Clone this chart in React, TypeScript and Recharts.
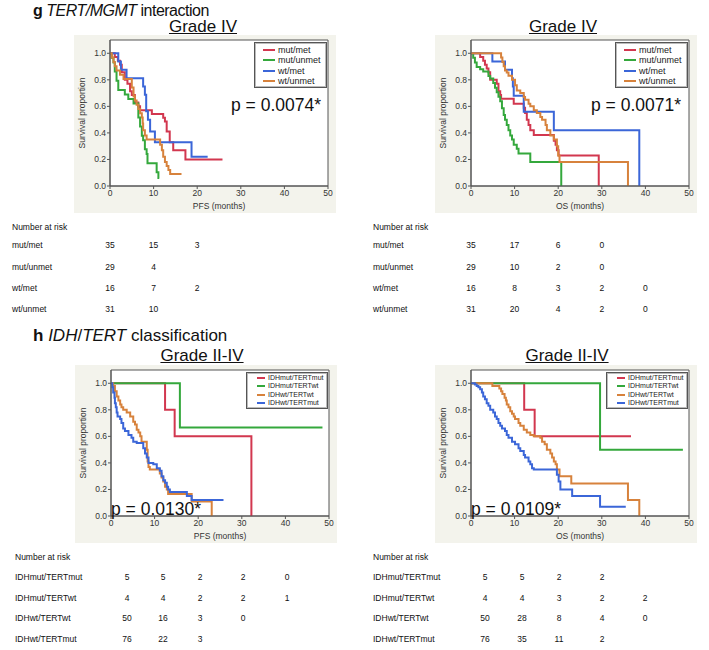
import React from 'react';
import { LineChart, Line, XAxis, YAxis, ReferenceArea, CartesianGrid, Legend } from 'recharts';

type Step = [number, number];

const monthTicks = [0, 10, 20, 30, 40, 50];
const survivalTicks = [0, 0.2, 0.4, 0.6, 0.8, 1.0];

const RED = '#d2374f';
const GREEN = '#34a83c';
const BLUE = '#3b66d8';
const ORANGE = '#d7823c';

const gradeIVGroups = ['mut/met', 'mut/unmet', 'wt/met', 'wt/unmet'];
const gradeIVColors = [RED, GREEN, BLUE, ORANGE];
const idhTertGroups = ['IDHmut/TERTmut', 'IDHmut/TERTwt', 'IDHwt/TERTwt', 'IDHwt/TERTmut'];
const idhTertColors = [RED, GREEN, ORANGE, BLUE];

// ---- g: PFS, Grade IV ----
const pfsG4MutMet: Step[] = [[0,1],[1.1,0.971],[1.8,0.943],[2.3,0.914],[2.7,0.857],[3.4,0.8],[4.0,0.771],[4.6,0.714],[5.0,0.686],[5.7,0.629],[6.5,0.6],[6.9,0.571],[9.6,0.543],[12.2,0.514],[12.6,0.486],[13.0,0.41],[13.7,0.33],[14.5,0.27],[17.3,0.2],[25.8,0.2]];
const pfsG4MutUnmet: Step[] = [[0,1],[0.4,0.966],[0.8,0.931],[1.1,0.862],[1.5,0.793],[1.9,0.724],[3.4,0.69],[4.2,0.655],[5.4,0.621],[6.5,0.517],[6.9,0.448],[7.3,0.379],[7.6,0.345],[8.0,0.276],[8.4,0.241],[8.6,0.172],[10.7,0.103],[11.1,0.06],[11.3,0.06]];
const pfsG4WtMet: Step[] = [[0,1],[1.9,0.9375],[2.5,0.875],[3.8,0.8125],[7.6,0.75],[8.0,0.6875],[8.3,0.5625],[8.7,0.5],[9.2,0.41],[10.3,0.33],[18.7,0.22],[22.4,0.22]];
const pfsG4WtUnmet: Step[] = [[0,1],[0.4,0.968],[0.8,0.935],[1.1,0.903],[1.5,0.871],[2.3,0.839],[3.1,0.806],[5.0,0.742],[5.4,0.677],[5.7,0.645],[6.1,0.613],[6.5,0.581],[6.9,0.548],[7.3,0.516],[7.5,0.47],[7.6,0.42],[8.0,0.38],[8.4,0.35],[11.5,0.31],[11.9,0.27],[12.2,0.22],[12.6,0.18],[13.0,0.15],[13.4,0.12],[13.8,0.09],[16.4,0.09]];

// ---- g: OS, Grade IV ----
const osG4MutMet: Step[] = [[0,1],[2.1,0.971],[2.8,0.943],[3.2,0.914],[3.6,0.886],[4.0,0.857],[4.4,0.8],[5.9,0.771],[6.3,0.714],[6.7,0.686],[6.9,0.657],[9.8,0.62],[12.1,0.59],[12.4,0.55],[12.8,0.5],[13.2,0.46],[13.6,0.42],[14.4,0.385],[19.0,0.34],[19.4,0.31],[19.7,0.27],[20.1,0.23],[29.3,0]];
const osG4MutUnmet: Step[] = [[0,1],[0.5,0.966],[0.9,0.931],[1.3,0.897],[2.1,0.879],[2.8,0.862],[4.0,0.828],[4.4,0.81],[5.1,0.776],[5.5,0.741],[5.9,0.707],[6.3,0.672],[6.7,0.638],[7.1,0.586],[7.5,0.534],[7.8,0.5],[8.2,0.46],[8.6,0.42],[9.0,0.38],[9.4,0.35],[9.8,0.31],[10.5,0.28],[10.9,0.245],[13.6,0.18],[20.7,0]];
const osG4WtMet: Step[] = [[0,1],[4.9,0.9375],[7.8,0.875],[9.4,0.8125],[9.6,0.75],[9.8,0.68],[12.1,0.56],[19.0,0.42],[38.6,0]];
const osG4WtUnmet: Step[] = [[0,1],[6.9,0.968],[7.2,0.935],[7.5,0.903],[7.8,0.871],[8.2,0.855],[8.6,0.83],[9.4,0.8],[10.1,0.76],[10.5,0.72],[11.3,0.7],[12.1,0.67],[12.4,0.65],[13.2,0.62],[13.6,0.6],[14.4,0.57],[15.1,0.55],[15.9,0.52],[16.3,0.5],[17.1,0.46],[17.4,0.42],[18.2,0.38],[19.0,0.35],[19.7,0.3],[20.0,0.23],[20.3,0.18],[36.0,0]];

// ---- h: PFS, Grade II-IV ----
const pfsAllIdhmutTertmut: Step[] = [[0,1],[12.4,0.8],[14.6,0.6],[32.2,0]];
const pfsAllIdhmutTertwt: Step[] = [[0,1],[15.8,0.667],[48.5,0.667]];
const pfsAllIdhwtTertwt: Step[] = [[0,1],[0.5,0.98],[0.9,0.94],[1.3,0.9],[1.7,0.87],[2.1,0.84],[2.4,0.82],[2.8,0.8],[3.6,0.78],[4.4,0.75],[5.1,0.71],[5.5,0.69],[5.9,0.65],[6.3,0.63],[6.7,0.6],[7.0,0.56],[8.2,0.5],[8.4,0.41],[8.6,0.37],[8.9,0.35],[11.2,0.32],[11.6,0.29],[12.0,0.26],[12.4,0.22],[12.8,0.2],[13.1,0.165],[18.5,0.11],[23.1,0]];
const pfsAllIdhwtTertmut: Step[] = [[0,1],[0.3,0.97],[0.5,0.93],[0.8,0.89],[0.9,0.85],[1.1,0.82],[1.3,0.78],[1.5,0.75],[2.1,0.73],[2.4,0.7],[2.8,0.66],[3.2,0.64],[4.0,0.61],[4.7,0.59],[5.1,0.56],[5.9,0.55],[7.4,0.51],[7.8,0.47],[8.2,0.44],[8.6,0.4],[9.7,0.39],[10.5,0.36],[11.2,0.34],[11.6,0.3],[12.0,0.27],[12.4,0.25],[12.8,0.22],[13.1,0.2],[13.5,0.18],[17.4,0.15],[18.5,0.12],[25.8,0.12]];

// ---- h: OS, Grade II-IV ----
const osAllIdhmutTertmut: Step[] = [[0,1],[12.2,0.8],[14.6,0.6],[36.7,0.6]];
const osAllIdhmutTertwt: Step[] = [[0,1],[29.6,0.5],[48.6,0.5]];
const osAllIdhwtTertwt: Step[] = [[0,1],[4.9,0.98],[6.5,0.96],[6.9,0.94],[7.2,0.92],[7.7,0.89],[8.0,0.87],[8.2,0.84],[8.6,0.82],[9.0,0.79],[9.4,0.77],[9.8,0.75],[10.1,0.73],[10.9,0.7],[11.3,0.68],[12.1,0.65],[12.8,0.63],[13.6,0.61],[14.4,0.6],[15.9,0.59],[16.3,0.56],[16.9,0.54],[17.4,0.5],[18.2,0.47],[18.6,0.44],[19.0,0.41],[19.4,0.39],[19.7,0.35],[20.3,0.3],[23.0,0.245],[36.0,0.12],[38.6,0]];
const osAllIdhwtTertmut: Step[] = [[0,1],[0.9,0.99],[1.3,0.98],[1.7,0.97],[2.1,0.955],[2.5,0.93],[2.8,0.9],[3.2,0.88],[3.6,0.85],[4.0,0.83],[4.4,0.8],[5.1,0.78],[5.5,0.75],[5.9,0.73],[6.3,0.7],[6.7,0.68],[7.1,0.66],[7.8,0.64],[8.2,0.61],[8.6,0.59],[9.4,0.56],[10.1,0.54],[10.9,0.51],[11.3,0.49],[12.1,0.46],[12.4,0.44],[13.2,0.41],[13.6,0.39],[14.0,0.36],[14.4,0.35],[19.7,0.31],[20.1,0.26],[20.5,0.2],[23.2,0.15],[29.6,0.07],[35.5,0.07]];

// ---- numbers at risk ----
const riskPfsGradeIV = [[35, 15, 3], [29, 4], [16, 7, 2], [31, 10]];
const riskOsGradeIV = [[35, 17, 6, 0], [29, 10, 2, 0], [16, 8, 3, 2, 0], [31, 20, 4, 2, 0]];
const riskPfsIdhTert = [[5, 5, 2, 2, 0], [4, 4, 2, 2, 1], [50, 16, 3, 0], [76, 22, 3]];
const riskOsIdhTert = [[5, 5, 2, 2], [4, 4, 3, 2, 2], [50, 28, 8, 4, 0], [76, 35, 11, 2]];

const pValues = ['p = 0.0074*', 'p = 0.0071*', 'p = 0.0130*', 'p = 0.0109*'];

const FONT = '"Liberation Sans", Arial, Helvetica, sans-serif';
const PANEL_W = 262;
const PANEL_H = 178;
const PLOT_LEFT = 36;
const PLOT_W = 218;

const toPoints = (c: Step[]) => c.map(([t, s]) => ({ t, s }));

type LegendGeom = { left: number; top: number; width: number; height: number; font: number; rowH: number; lineW: number; padTop: number; padLeft: number };

function makeLegend(g: LegendGeom, names: string[]) {
  return (props: any) => {
    const payload = [...(props.payload || [])].sort(
      (a: any, b: any) => names.indexOf(a.value) - names.indexOf(b.value)
    );
    return (
      <div style={{ width: g.width, height: g.height, boxSizing: 'border-box', background: '#fff', border: '1px solid #555', boxShadow: 'inset 0 0 0 1px #bbb', paddingTop: g.padTop, paddingLeft: g.padLeft, fontFamily: FONT }}>
        {payload.map((p: any) => (
          <div key={p.value} style={{ display: 'flex', alignItems: 'center', height: g.rowH }}>
            <span style={{ display: 'inline-block', width: g.lineW, height: 0, borderTop: `2px solid ${p.color}`, marginRight: 3 }} />
            <span style={{ fontSize: g.font, color: '#222', lineHeight: `${g.rowH}px`, whiteSpace: 'nowrap' }}>{p.value}</span>
          </div>
        ))}
      </div>
    );
  };
}

type PanelProps = { left: number; top: number; curves: Step[][]; names: string[]; colors: string[]; xLabel: string; legend: LegendGeom };

function KMPanel({ left, top, curves, names, colors, xLabel, legend }: PanelProps) {
  return (
    <div style={{ position: 'absolute', left, top, width: PANEL_W, height: PANEL_H, background: '#f3f3ec' }}>
      <LineChart width={PANEL_W} height={PANEL_H} margin={{ top: 5, right: 8, bottom: 0, left: 0 }} style={{ fontFamily: FONT }}>
        <CartesianGrid fill="#ffffff" stroke="none" />
        <XAxis
          dataKey="t"
          type="number"
          domain={[0, 50]}
          ticks={monthTicks}
          allowDataOverflow
          height={27}
          tickSize={3}
          tickMargin={1}
          stroke="#555"
          tick={{ fontSize: 8.5, fill: '#333' }}
          label={{ value: xLabel, position: 'insideBottom', offset: 4, style: { fontSize: 8.5, fill: '#333' } }}
        />
        <YAxis
          type="number"
          domain={[0, 1.1]}
          ticks={survivalTicks}
          allowDataOverflow
          width={PLOT_LEFT}
          tickSize={3}
          tickMargin={1}
          stroke="#555"
          tickFormatter={(v: number) => v.toFixed(1)}
          tick={{ fontSize: 8.5, fill: '#333' }}
          label={{ value: 'Survival proportion', angle: -90, position: 'insideLeft', offset: 8, style: { textAnchor: 'middle', fontSize: 8.5, fill: '#333' } }}
        />
        <ReferenceArea x1={0} x2={50} y1={0} y2={1.1} fill="none" stroke="#555" strokeWidth={1} ifOverflow="visible" />
        {curves.map((c, i) => (
          <Line
            key={names[i]}
            data={toPoints(c)}
            dataKey="s"
            name={names[i]}
            type="stepAfter"
            stroke={colors[i]}
            strokeWidth={2}
            dot={false}
            activeDot={false}
            legendType="plainline"
            isAnimationActive={false}
          />
        ))}
        <Legend
          layout="vertical"
          align="center"
          verticalAlign="middle"
          wrapperStyle={{ left: legend.left, top: legend.top, width: legend.width, height: legend.height }}
          content={makeLegend(legend, names)}
        />
      </LineChart>
    </div>
  );
}

function Txt({ x, y, children, size = 8.5, center = false }: { x: number; y: number; children: React.ReactNode; size?: number; center?: boolean }) {
  return (
    <div style={{ position: 'absolute', left: x, top: y - 6, lineHeight: '12px', fontSize: size, whiteSpace: 'nowrap', transform: center ? 'translateX(-50%)' : undefined, color: '#111' }}>
      {children}
    </div>
  );
}

function RiskTable({ labelX, titleY, rowYs, cols, labels, rows }: { labelX: number; titleY: number; rowYs: number[]; cols: number[]; labels: string[]; rows: number[][] }) {
  return (
    <>
      <Txt x={labelX} y={titleY}>Number at risk</Txt>
      {labels.map((lab, r) => (
        <React.Fragment key={lab}>
          <Txt x={labelX} y={rowYs[r]}>{lab}</Txt>
          {rows[r].map((n, c) => (
            <Txt key={c} x={cols[c]} y={rowYs[r]} center>{n}</Txt>
          ))}
        </React.Fragment>
      ))}
    </>
  );
}

const legendTop: LegendGeom = { left: 180, top: 7, width: 73, height: 46, font: 9, rowH: 10.3, lineW: 12, padTop: 2, padLeft: 8 };
const legendBottom: LegendGeom = { left: 171, top: 7, width: 82, height: 37, font: 7, rowH: 8.3, lineW: 8, padTop: 1, padLeft: 10 };

const tickCols = (panelLeft: number) => monthTicks.map((t) => panelLeft + PLOT_LEFT + (t / 50) * PLOT_W);

export default function App() {
  const topRows = [245, 267, 288, 309];
  const bottomRows = [577, 598, 618, 639];
  return (
    <div style={{ position: 'absolute', left: 0, top: 0, width: 709, height: 650, background: '#fff', fontFamily: FONT, color: '#111', overflow: 'hidden' }}>
      <div style={{ position: 'absolute', left: 33, top: 2.5, fontSize: 16, lineHeight: '16px', letterSpacing: -0.5, whiteSpace: 'nowrap' }}>
        <b>g</b> <i>TERT/MGMT</i> interaction
      </div>
      <div style={{ position: 'absolute', left: 143, width: 120, textAlign: 'center', top: 18, fontSize: 17, lineHeight: '17px', textDecoration: 'underline' }}>Grade IV</div>
      <div style={{ position: 'absolute', left: 503, width: 120, textAlign: 'center', top: 18, fontSize: 17, lineHeight: '17px', textDecoration: 'underline' }}>Grade IV</div>

      <KMPanel left={74} top={35} curves={[pfsG4MutMet, pfsG4MutUnmet, pfsG4WtMet, pfsG4WtUnmet]} names={gradeIVGroups} colors={gradeIVColors} xLabel="PFS (months)" legend={legendTop} />
      <KMPanel left={435} top={35} curves={[osG4MutMet, osG4MutUnmet, osG4WtMet, osG4WtUnmet]} names={gradeIVGroups} colors={gradeIVColors} xLabel="OS (months)" legend={legendTop} />

      <div style={{ position: 'absolute', left: 231, top: 97, fontSize: 17.5, lineHeight: '17.5px', whiteSpace: 'nowrap' }}>{pValues[0]}</div>
      <div style={{ position: 'absolute', left: 591, top: 97, fontSize: 17.5, lineHeight: '17.5px', whiteSpace: 'nowrap' }}>{pValues[1]}</div>

      <RiskTable labelX={12} titleY={227} rowYs={topRows} cols={tickCols(74)} labels={gradeIVGroups} rows={riskPfsGradeIV} />
      <RiskTable labelX={373} titleY={227} rowYs={topRows} cols={tickCols(435)} labels={gradeIVGroups} rows={riskOsGradeIV} />

      <div style={{ position: 'absolute', left: 33, top: 326.5, fontSize: 17, lineHeight: '17px', whiteSpace: 'nowrap' }}>
        <b>h</b> <i>IDH</i>/<i>TERT</i> classification
      </div>
      <div style={{ position: 'absolute', left: 142, width: 120, textAlign: 'center', top: 346.5, fontSize: 17, lineHeight: '17px', textDecoration: 'underline' }}>Grade II-IV</div>
      <div style={{ position: 'absolute', left: 507, width: 120, textAlign: 'center', top: 346.5, fontSize: 17, lineHeight: '17px', textDecoration: 'underline' }}>Grade II-IV</div>

      <KMPanel left={75} top={365} curves={[pfsAllIdhmutTertmut, pfsAllIdhmutTertwt, pfsAllIdhwtTertwt, pfsAllIdhwtTertmut]} names={idhTertGroups} colors={idhTertColors} xLabel="PFS (months)" legend={legendBottom} />
      <KMPanel left={435} top={365} curves={[osAllIdhmutTertmut, osAllIdhmutTertwt, osAllIdhwtTertwt, osAllIdhwtTertmut]} names={idhTertGroups} colors={idhTertColors} xLabel="OS (months)" legend={legendBottom} />

      <div style={{ position: 'absolute', left: 111, top: 501, fontSize: 17.5, lineHeight: '17.5px', whiteSpace: 'nowrap' }}>{pValues[2]}</div>
      <div style={{ position: 'absolute', left: 471, top: 501, fontSize: 17.5, lineHeight: '17.5px', whiteSpace: 'nowrap' }}>{pValues[3]}</div>

      <RiskTable labelX={15} titleY={557} rowYs={bottomRows} cols={[127, 163, 200, 243, 287]} labels={idhTertGroups} rows={riskPfsIdhTert} />
      <RiskTable labelX={373} titleY={557} rowYs={bottomRows} cols={[485, 522, 559, 602, 645]} labels={idhTertGroups} rows={riskOsIdhTert} />
    </div>
  );
}
